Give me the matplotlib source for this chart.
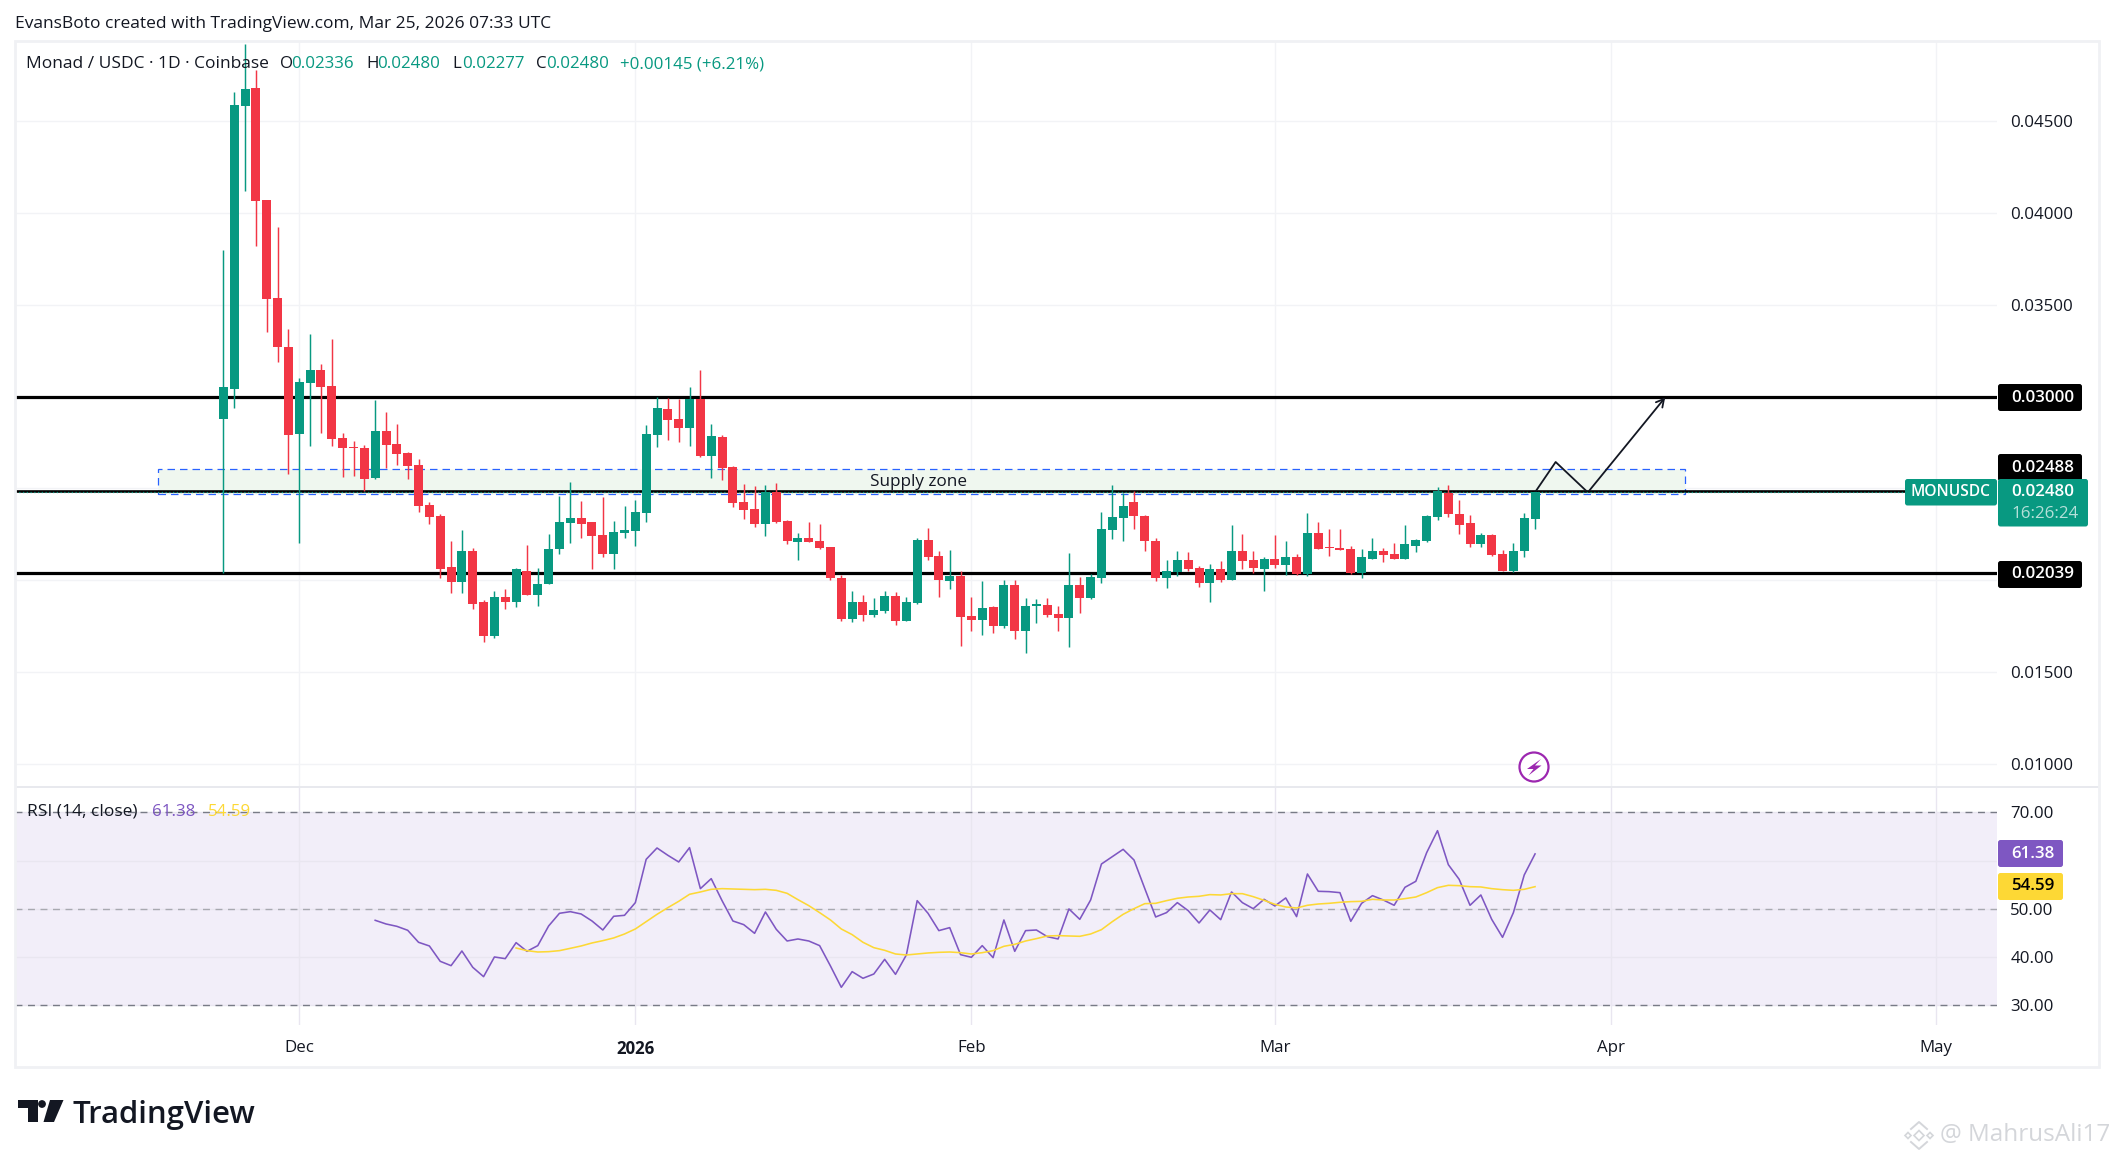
import matplotlib
matplotlib.use("Agg")
import matplotlib.pyplot as plt
from matplotlib.patches import FancyBboxPatch, Rectangle, Polygon, Circle, RegularPolygon
from matplotlib.transforms import IdentityTransform
import numpy as np

W, H = 2114, 1157
FONT = "Open Sans"
GREEN = "#089981"
RED = "#f23645"
PURPLE = "#7e57c2"
YELLOW = "#fdd835"
GRID = "#f2f3f6"
INK = "#131722"

plt.rcParams["font.family"] = [FONT, "DejaVu Sans"]

# prices in thousandths of a USDC, day 0 is Nov 24 2025
opens = [28.78, 30.44, 45.81, 46.79, 40.72, 35.38, 32.72, 27.96, 30.73, 31.44, 30.55, 27.74, 27.23, 27.19, 25.57, 28.12,
         27.41, 26.92, 26.28, 24.11, 23.51, 20.74, 19.88, 21.61, 18.80, 16.94, 19.11, 18.80, 20.52, 19.22, 19.82, 21.68,
         23.14, 23.40, 23.18, 22.47, 21.45, 22.58, 22.69, 23.67, 27.90, 29.31, 28.77, 28.28, 29.86, 26.76, 27.79, 26.16,
         24.26, 23.88, 23.07, 24.81, 23.23, 22.09, 22.31, 22.14, 21.82, 20.14, 17.91, 18.83, 18.13, 18.34, 19.16, 17.80,
         18.78, 22.20, 21.33, 19.97, 20.24, 18.07, 17.85, 18.56, 17.53, 19.76, 17.26, 18.62, 18.67, 18.18, 17.96, 19.76,
         19.05, 20.12, 22.73, 23.38, 24.25, 23.49, 22.13, 20.12, 20.45, 21.10, 20.66, 19.85, 20.61, 20.01, 21.59, 21.10,
         20.61, 21.15, 20.83, 21.26, 20.34, 22.56, 21.80, 21.75, 21.70, 20.39, 21.15, 21.59, 21.42, 21.15, 21.86, 22.13,
         23.43, 24.73, 23.59, 23.11, 21.97, 22.45, 21.42, 20.50, 21.59, 23.36]
closes = [30.51, 45.86, 46.72, 40.67, 35.34, 32.70, 27.90, 30.78, 31.44, 30.51, 27.70, 27.19, 27.19, 25.53, 28.12, 27.37,
          26.88, 26.21, 24.04, 23.45, 20.63, 19.88, 21.61, 18.73, 16.94, 19.11, 18.80, 20.59, 19.22, 19.82, 21.72, 23.18,
          23.40, 23.07, 22.43, 21.45, 22.65, 22.74, 23.72, 27.95, 29.37, 28.71, 28.28, 29.86, 26.76, 27.85, 26.09, 24.21,
          23.83, 23.07, 24.81, 23.18, 22.14, 22.31, 22.09, 21.76, 20.14, 17.91, 18.83, 18.13, 18.40, 19.16, 17.80, 18.83,
          22.20, 21.28, 20.03, 20.24, 18.02, 17.85, 18.51, 17.53, 19.76, 17.26, 18.62, 18.67, 18.13, 17.96, 19.76, 19.05,
          20.19, 22.78, 23.43, 24.03, 23.49, 22.13, 20.12, 20.50, 21.10, 20.61, 19.85, 20.61, 20.01, 21.59, 21.04, 20.66,
          21.15, 20.83, 21.26, 20.34, 22.56, 21.70, 21.75, 21.64, 20.39, 21.26, 21.59, 21.37, 21.15, 21.97, 22.18, 23.49,
          24.84, 23.59, 22.99, 21.97, 22.45, 21.37, 20.50, 21.59, 23.38, 24.80]
highs = [37.97, 46.56, 49.20, 47.78, 40.72, 39.23, 33.70, 31.00, 33.39, 31.79, 33.12, 28.00, 27.61, 27.39, 29.80, 29.16,
         28.50, 27.01, 26.61, 24.24, 23.60, 22.16, 22.76, 21.74, 18.91, 19.44, 19.55, 20.68, 21.94, 20.68, 22.54, 24.60,
         25.35, 24.33, 23.18, 24.53, 23.25, 24.05, 24.37, 28.44, 30.00, 29.91, 29.86, 30.51, 31.43, 28.50, 27.90, 26.22,
         25.24, 25.13, 25.19, 25.29, 23.28, 22.58, 23.18, 23.07, 21.82, 20.30, 19.43, 19.21, 19.05, 19.43, 19.38, 19.10,
         22.31, 22.85, 21.60, 21.66, 20.52, 19.10, 19.97, 18.62, 20.03, 20.03, 19.05, 18.99, 19.05, 18.62, 21.49, 20.19,
         20.35, 23.70, 25.17, 24.73, 24.84, 23.54, 22.29, 21.10, 21.59, 21.53, 20.77, 20.88, 21.04, 23.00, 22.51, 21.59,
         21.26, 22.45, 22.13, 21.42, 23.65, 23.16, 22.78, 22.78, 21.86, 21.70, 22.29, 21.75, 22.02, 23.00, 22.24, 23.54,
         25.06, 25.17, 24.35, 23.54, 22.56, 22.51, 21.64, 22.02, 23.65, 24.80]
lows = [20.37, 29.36, 41.21, 38.22, 33.54, 31.86, 25.79, 22.05, 27.30, 28.00, 27.30, 25.62, 25.68, 24.86, 25.51, 26.10,
        26.28, 25.53, 23.73, 23.07, 20.15, 19.33, 19.33, 18.42, 16.65, 16.87, 18.46, 18.53, 19.22, 18.62, 19.82, 21.45,
        22.05, 22.32, 20.59, 21.28, 20.63, 22.31, 21.87, 23.18, 27.25, 27.63, 27.52, 27.30, 26.71, 25.57, 25.46, 23.99,
        23.34, 22.90, 22.42, 23.12, 21.98, 21.11, 22.09, 21.71, 20.03, 17.80, 17.75, 17.80, 18.02, 18.23, 17.58, 17.80,
        18.72, 21.11, 19.10, 19.54, 16.44, 17.26, 17.04, 17.15, 17.42, 16.82, 16.06, 17.69, 18.02, 17.26, 16.39, 18.23,
        18.99, 19.85, 22.24, 22.13, 22.78, 21.59, 19.96, 19.58, 20.23, 20.50, 19.63, 18.82, 19.90, 20.01, 20.61, 20.39,
        19.42, 20.66, 20.28, 20.28, 20.23, 21.70, 21.32, 21.64, 20.34, 20.12, 21.15, 20.99, 21.15, 21.15, 21.53, 22.07,
        23.27, 23.43, 22.51, 21.80, 21.80, 21.32, 20.50, 20.43, 21.26, 22.78]

# rsi starts on day 14, its average on day 27
rsi = [47.62, 46.86, 46.37, 45.55, 43.06, 42.30, 39.12, 38.22, 41.26, 37.88, 35.94, 40.02, 39.67, 42.99, 41.19, 42.37,
       46.44, 49.07, 49.41, 48.93, 47.48, 45.61, 48.45, 48.65, 51.28, 60.26, 62.61, 61.09, 59.71, 62.68, 54.18, 56.25,
       51.69, 47.48, 46.72, 44.92, 49.34, 45.75, 43.33, 43.75, 43.33, 42.37, 38.15, 33.73, 36.98, 35.60, 36.49, 39.53,
       36.42, 40.43, 51.69, 49.07, 45.48, 46.10, 40.50, 39.95, 42.37, 39.88, 47.69, 41.19, 45.48, 45.61, 44.23, 43.75,
       49.97, 47.82, 51.83, 59.29, 60.81, 62.33, 60.12, 54.18, 48.31, 49.21, 51.28, 49.62, 47.06, 49.76, 47.75, 53.49,
       51.28, 50.03, 51.97, 50.59, 52.25, 48.38, 57.22, 53.63, 53.56, 53.35, 47.41, 51.14, 52.73, 51.83, 50.73, 54.46,
       55.70, 61.64, 66.20, 59.15, 56.11, 50.73, 52.87, 47.82, 44.09, 49.21, 57.01, 61.38]
rsi_ma = [41.88, 41.33, 41.05, 41.12, 41.33, 41.81, 42.30, 42.92, 43.40, 43.96, 44.78, 45.82, 47.34, 48.86, 50.24, 51.55,
          53.01, 53.49, 54.04, 54.18, 54.11, 54.04, 53.97, 54.04, 53.83, 53.21, 51.90, 50.66, 49.21, 47.69, 45.82, 44.65,
          43.06, 41.95, 41.40, 40.64, 40.43, 40.64, 40.85, 40.98, 41.05, 40.91, 40.64, 40.91, 41.33, 42.23, 42.64, 43.33,
          43.82, 44.37, 44.44, 44.37, 44.30, 44.78, 45.68, 47.34, 48.86, 50.03, 51.07, 51.14, 51.69, 52.18, 52.45, 52.59,
          52.94, 52.87, 53.14, 53.14, 52.52, 51.76, 50.93, 50.38, 50.17, 50.73, 51.00, 51.14, 51.35, 51.49, 51.55, 51.97,
          51.83, 51.83, 52.11, 52.45, 53.35, 54.39, 54.87, 54.80, 54.59, 54.53, 54.18, 53.97, 53.83, 54.04, 54.59]

price_ticks = [45.0, 40.0, 35.0, 30.0, 25.0, 20.0, 15.0, 10.0]
price_labels = ["0.04500", "0.04000", "0.03500", "", "", "", "0.01500", "0.01000"]
rsi_ticks = [70, 60, 50, 40, 30]
rsi_labels = ["70.00", "", "50.00", "40.00", "30.00"]
month_days = [7, 38, 69, 97, 128, 158]
month_names = ["Dec", "2026", "Feb", "Mar", "Apr", "May"]
level_prices = [30.00, 24.88, 20.39]
level_names = ["0.03000", "0.02488", "0.02039"]
zone_days = [-6, 134.8]
zone_prices = [24.70, 26.04]
path_days = [121.1, 122.9, 125.7]
path_prices = [24.88, 26.44, 24.88]
arrow_days = [126, 133]
arrow_prices = [24.88, 29.95]
last_price = 24.80


def fx(x):
    return x / W


def fy(y):
    return 1 - y / H


def axes_at(left, top, right, bottom):
    return fig.add_axes([fx(left), fy(bottom), (right - left) / W, (bottom - top) / H])


def px_box(x0, y0, x1, y1, color):
    fig.add_artist(FancyBboxPatch((x0, H - y1), x1 - x0, y1 - y0, boxstyle="round,pad=0,rounding_size=2.5",
                                  fc=color, ec="none", transform=IdentityTransform(), zorder=5))


def px_text(x, y, s, color="#131722", size=12.2, **kw):
    kw.setdefault("ha", "left")
    kw.setdefault("va", "center")
    fig.text(fx(x), fy(y), s, color=color, fontsize=size, zorder=6, **kw)


fig = plt.figure(figsize=(W / 100, H / 100), dpi=100, facecolor="white")

# one day is 10.84 px, day 7 sits at x=299.3
xlim = (7 - (299.3 - 15) / 10.84, 7 + (1996.5 - 299.3) / 10.84)

ax = axes_at(15, 41, 1996.5, 786)
ax.set_xlim(xlim)
ax.set_ylim(8.80, 49.36)
ax.set_xticks(month_days)
ax.set_xticklabels([])
ax.set_yticks(price_ticks)
ax.set_yticklabels(price_labels)
ax.yaxis.tick_right()
ax.tick_params(length=0, pad=10, labelsize=12.2, labelcolor=INK)
ax.grid(True, color=GRID, lw=1.0)
ax.set_axisbelow(True)
for s in ax.spines.values():
    s.set_visible(False)

ax.add_patch(Rectangle((zone_days[0], zone_prices[0]), zone_days[1] - zone_days[0], zone_prices[1] - zone_prices[0],
                       fc="#eff7ef", ec="#2962ff", lw=0.9, ls=(0, (6, 4)), zorder=1))
ax.hlines(level_prices, *xlim, colors="black", lw=[2.3, 1.9, 2.3], zorder=2)
ax.hlines(last_price, *xlim, colors=GREEN, lw=0.9, linestyles=(0, (1, 2)), zorder=2.5)

days = np.arange(len(opens))
o = np.array(opens)
c = np.array(closes)
up = c >= o
colors = np.where(up, GREEN, RED)
ax.vlines(days, lows, highs, colors=colors, lw=1.05, zorder=3)
ax.bar(days, np.maximum(np.abs(c - o), 0.07), bottom=np.minimum(o, c), width=0.83, color=colors, lw=0, zorder=4)

ax.plot(path_days, path_prices, color=INK, lw=1.3, zorder=5)
ax.annotate("", xy=(arrow_days[1], arrow_prices[1]), xytext=(arrow_days[0], arrow_prices[0]),
            arrowprops=dict(arrowstyle="->,head_length=0.55,head_width=0.3", color=INK, lw=1.3,
                            shrinkA=0, shrinkB=0), zorder=5)

px_text(918, 482, "Supply zone", size=12.3, ha="center")

# rsi pane
ax2 = axes_at(15, 788, 1996.5, 1025)
ax2.set_xlim(xlim)
ax2.set_ylim(25.92, 75.04)
ax2.axhspan(30, 70, color="#f2eef9", lw=0, zorder=0)
ax2.set_xticks(month_days)
ax2.set_xticklabels(month_names)
for t, name in zip(ax2.get_xticklabels(), month_names):
    if name == "2026":
        t.set_fontweight("bold")
ax2.set_yticks(rsi_ticks)
ax2.set_yticklabels(rsi_labels)
ax2.yaxis.tick_right()
ax2.tick_params(length=0, labelsize=12.2, labelcolor=INK)
ax2.tick_params(axis="y", pad=10)
ax2.tick_params(axis="x", pad=10.5)
ax2.grid(True, color="#e9e6f0", lw=1.0, zorder=0.5)
ax2.set_axisbelow(True)
for s in ax2.spines.values():
    s.set_visible(False)
ax2.hlines([70, 30], *xlim, colors="#787b86", lw=1.0, linestyles=(0, (5, 4)), zorder=1)
ax2.hlines(50, *xlim, colors="#a8a9b0", lw=1.0, linestyles=(0, (5, 4)), zorder=1)
ax2.plot(np.arange(14, 14 + len(rsi)), rsi, color=PURPLE, lw=1.15, zorder=3)
ax2.plot(np.arange(27, 27 + len(rsi_ma)), rsi_ma, color=YELLOW, lw=1.15, zorder=3)

# pane divider and outer frame
fig.add_artist(Rectangle((15, H - 787.5), 2084, 1.5, fc="#e8e9ee", ec="none", transform=IdentityTransform()))
fig.add_artist(Rectangle((15, H - 1067), 2084, 1026, fc="none", ec="#f0f1f4", lw=2.0, transform=IdentityTransform()))

# header lines
px_text(15, 24, "EvansBoto created with TradingView.com, Mar 25, 2026 07:33 UTC", size=12.5)
px_text(26.5, 64.5, "Monad / USDC · 1D · Coinbase", size=12.5)
for x, s in zip([280, 366, 452.5, 536], ["O", "H", "L", "C"]):
    px_text(x, 64.5, s, size=12.2)
for x, s in zip([291, 377.5, 462, 546, 620], ["0.02336", "0.02480", "0.02277", "0.02480", "+0.00145 (+6.21%)"]):
    px_text(x, 64.5, s, color=GREEN, size=12.2)
px_text(27, 811.5, "RSI (14, close)", size=12.5)
px_text(152, 811.5, "61.38", color=PURPLE, size=12.2)
px_text(207.5, 811.5, "54.59", color=YELLOW, size=12.2)

# price scale labels
for cy, s in zip([397.5, 467.5, 574.5], level_names):
    px_box(1998, cy - 13.5, 2082, cy + 13.5, "black")
    px_text(2011, cy, s, color="white", fontweight="semibold")
px_box(1905, 479, 1997, 505.5, GREEN)
px_text(1911, 492.5, "MONUSDC", color="white", fontweight="semibold", size=11.2)
px_box(1998, 479, 2088, 526.5, GREEN)
px_text(2011, 492.5, "0.02480", color="white", fontweight="semibold")
px_text(2011, 514, "16:26:24", color="#b5e0d9")
px_box(1998, 840, 2063, 867, PURPLE)
px_text(2011, 853.5, "61.38", color="white", fontweight="semibold")
px_box(1998, 873, 2063, 900, YELLOW)
px_text(2011, 886.5, "54.59", color="black", fontweight="semibold")

# lightning badge
fig.add_artist(Circle((1534, H - 767), 14.5, fc="white", ec="#9c27b0", lw=1.6, transform=IdentityTransform(), zorder=6))
fig.add_artist(Polygon([(1541, H - 759), (1527, H - 769), (1533.5, H - 769), (1528.5, H - 775.5), (1541.5, H - 765.5), (1535, H - 765.5)],
                       fc="#9c27b0", ec="none", transform=IdentityTransform(), zorder=7))

# TradingView logo
logo = "#131722"
fig.add_artist(Polygon([(17.5, H - 1100), (37.5, H - 1100), (37.5, H - 1122), (28, H - 1122), (28, H - 1107.5), (17.5, H - 1107.5)],
                       fc=logo, ec="none", transform=IdentityTransform()))
fig.add_artist(Circle((42, H - 1104), 3.9, fc=logo, ec="none", transform=IdentityTransform()))
fig.add_artist(Polygon([(50, H - 1100), (63.5, H - 1100), (54, H - 1122), (43.5, H - 1122)],
                       fc=logo, ec="none", transform=IdentityTransform()))
px_text(72, 1115, "TradingView", color=logo, size=22.4, fontweight="semibold")

# watermark
mark = "#d4d6da"
for cx, cy, r in [(1919, 1135.5, 5), (1908, 1135.5, 3), (1930, 1135.5, 3)]:
    fig.add_artist(RegularPolygon((cx, H - cy), 4, radius=r, fc="none", ec=mark, lw=1.2, transform=IdentityTransform()))
fig.add_artist(plt.Line2D([1911, 1919, 1927], [H - 1129, H - 1122, H - 1129], color=mark, lw=1.4, transform=IdentityTransform()))
fig.add_artist(plt.Line2D([1911, 1919, 1927], [H - 1142, H - 1149, H - 1142], color=mark, lw=1.4, transform=IdentityTransform()))
px_text(1940, 1135, "@ MahrusAli17", color=mark, size=17.5)

fig.savefig("out.png", dpi=100)
